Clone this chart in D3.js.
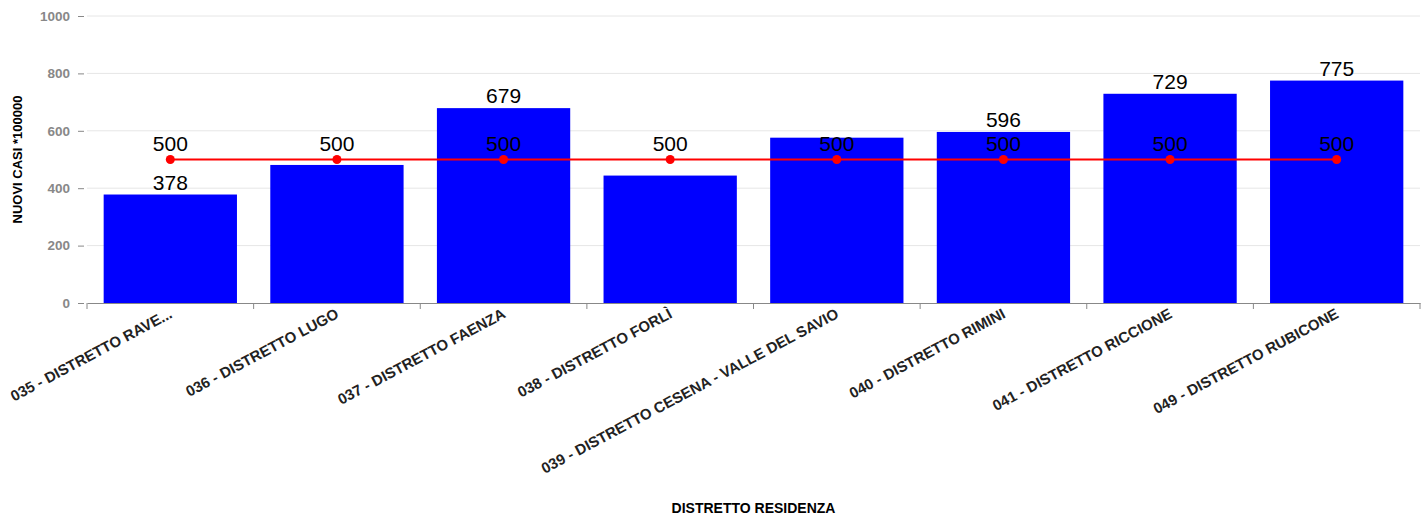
<!DOCTYPE html>
<html>
<head>
<meta charset="utf-8">
<script src="https://cdn.jsdelivr.net/npm/d3@7"></script>
<style>
  body { margin: 0; background: #fff; }
  svg { font-family: "Liberation Sans", Arial, sans-serif; }
</style>
</head>
<body>
<div id="chart"></div>
<script>
var districts = [
  "035 - DISTRETTO RAVE...",
  "036 - DISTRETTO LUGO",
  "037 - DISTRETTO FAENZA",
  "038 - DISTRETTO FORLÌ",
  "039 - DISTRETTO CESENA - VALLE DEL SAVIO",
  "040 - DISTRETTO RIMINI",
  "041 - DISTRETTO RICCIONE",
  "049 - DISTRETTO RUBICONE"
];
var newCases = [378, 481, 679, 444, 576, 596, 729, 775];
var threshold = [500, 500, 500, 500, 500, 500, 500, 500];
var yTicks = [0, 200, 400, 600, 800, 1000];

var width = 1428;
var height = 519;
var margin = { top: 16, right: 8, bottom: 216, left: 87 };

var svg = d3
  .select("#chart")
  .append("svg")
  .attr("width", width)
  .attr("height", height);

var x = d3
  .scaleBand()
  .domain(districts)
  .range([margin.left, width - margin.right])
  .paddingInner(0.2)
  .paddingOuter(0.1);

var y = d3
  .scaleLinear()
  .domain([0, 1000])
  .range([height - margin.bottom, margin.top]);

// grid lines
svg
  .append("g")
  .selectAll("line")
  .data(yTicks.filter((d) => d > 0))
  .enter()
  .append("line")
  .attr("x1", margin.left)
  .attr("x2", width - margin.right)
  .attr("y1", (d) => y(d))
  .attr("y2", (d) => y(d))
  .attr("stroke", "#e6e6e6")
  .attr("stroke-width", 1);

// y axis
var yAxis = svg
  .append("g")
  .attr("transform", "translate(" + (margin.left - 3) + ",0)")
  .call(d3.axisLeft(y).tickValues(yTicks).tickFormat(d3.format("d")).tickSize(6).tickPadding(8));
yAxis.select(".domain").remove();
yAxis.selectAll(".tick line").attr("stroke", "#888");
yAxis
  .selectAll(".tick text")
  .attr("fill", "#888")
  .style("font-size", "13.5px")
  .style("font-weight", "bold");

// bars
svg
  .append("g")
  .selectAll("rect")
  .data(newCases)
  .enter()
  .append("rect")
  .attr("x", (d, i) => x(districts[i]))
  .attr("y", (d) => y(d))
  .attr("width", x.bandwidth())
  .attr("height", (d) => y(0) - y(d))
  .attr("fill", "#0000ff");

// x axis
var xAxis = svg
  .append("g")
  .attr("transform", "translate(0," + y(0) + ")")
  .call(d3.axisBottom(x).tickSize(0).tickSizeOuter(0));
xAxis.select(".domain").attr("stroke", "#888");
xAxis.selectAll(".tick text").remove();

// boundary ticks between categories
var span = (x.range()[1] - x.range()[0]) / districts.length;
var bounds = d3.range(districts.length + 1).map((i) => x.range()[0] + i * span);
svg
  .append("g")
  .selectAll("line")
  .data(bounds)
  .enter()
  .append("line")
  .attr("x1", (d) => d)
  .attr("x2", (d) => d)
  .attr("y1", y(0))
  .attr("y2", y(0) + 6)
  .attr("stroke", "#888");

// category labels
svg
  .append("g")
  .selectAll("text")
  .data(districts)
  .enter()
  .append("text")
  .attr("transform", function (d) {
    return "translate(" + (x(d) + x.bandwidth() / 2 + 3) + "," + (y(0) + 14) + ") rotate(-28)";
  })
  .attr("text-anchor", "end")
  .attr("fill", "#222")
  .style("font-size", "15px")
  .style("font-weight", "bold")
  .text((d) => d);

// threshold line
var line = d3
  .line()
  .x((d, i) => x(districts[i]) + x.bandwidth() / 2)
  .y((d) => y(d));

svg
  .append("path")
  .datum(threshold)
  .attr("d", line)
  .attr("fill", "none")
  .attr("stroke", "#ff0000")
  .attr("stroke-width", 2);

svg
  .append("g")
  .selectAll("circle")
  .data(threshold)
  .enter()
  .append("circle")
  .attr("cx", (d, i) => x(districts[i]) + x.bandwidth() / 2)
  .attr("cy", (d) => y(d))
  .attr("r", 4.5)
  .attr("fill", "#ff0000");

// bar value labels (hidden when they collide with threshold labels)
svg
  .append("g")
  .selectAll("text")
  .data(newCases)
  .enter()
  .append("text")
  .filter((d, i) => Math.abs(y(d) - y(threshold[i])) > 24)
  .attr("x", function (d) {
    var i = newCases.indexOf(d);
    return x(districts[i]) + x.bandwidth() / 2;
  })
  .attr("y", (d) => y(d) - 5)
  .attr("text-anchor", "middle")
  .attr("fill", "#000")
  .style("font-size", "21px")
  .text((d) => d);

svg
  .append("g")
  .selectAll("text")
  .data(threshold)
  .enter()
  .append("text")
  .attr("x", (d, i) => x(districts[i]) + x.bandwidth() / 2)
  .attr("y", (d) => y(d) - 9)
  .attr("text-anchor", "middle")
  .attr("fill", "#000")
  .style("font-size", "21px")
  .text((d) => d);

// axis titles
svg
  .append("text")
  .attr("transform", "translate(22," + (margin.top + (y(0) - margin.top) / 2) + ") rotate(-90)")
  .attr("text-anchor", "middle")
  .style("font-size", "13px")
  .style("font-weight", "bold")
  .text("NUOVI CASI *100000");

svg
  .append("text")
  .attr("x", (x.range()[0] + x.range()[1]) / 2)
  .attr("y", 513)
  .attr("text-anchor", "middle")
  .style("font-size", "14px")
  .style("font-weight", "bold")
  .text("DISTRETTO RESIDENZA");
</script>
</body>
</html>
